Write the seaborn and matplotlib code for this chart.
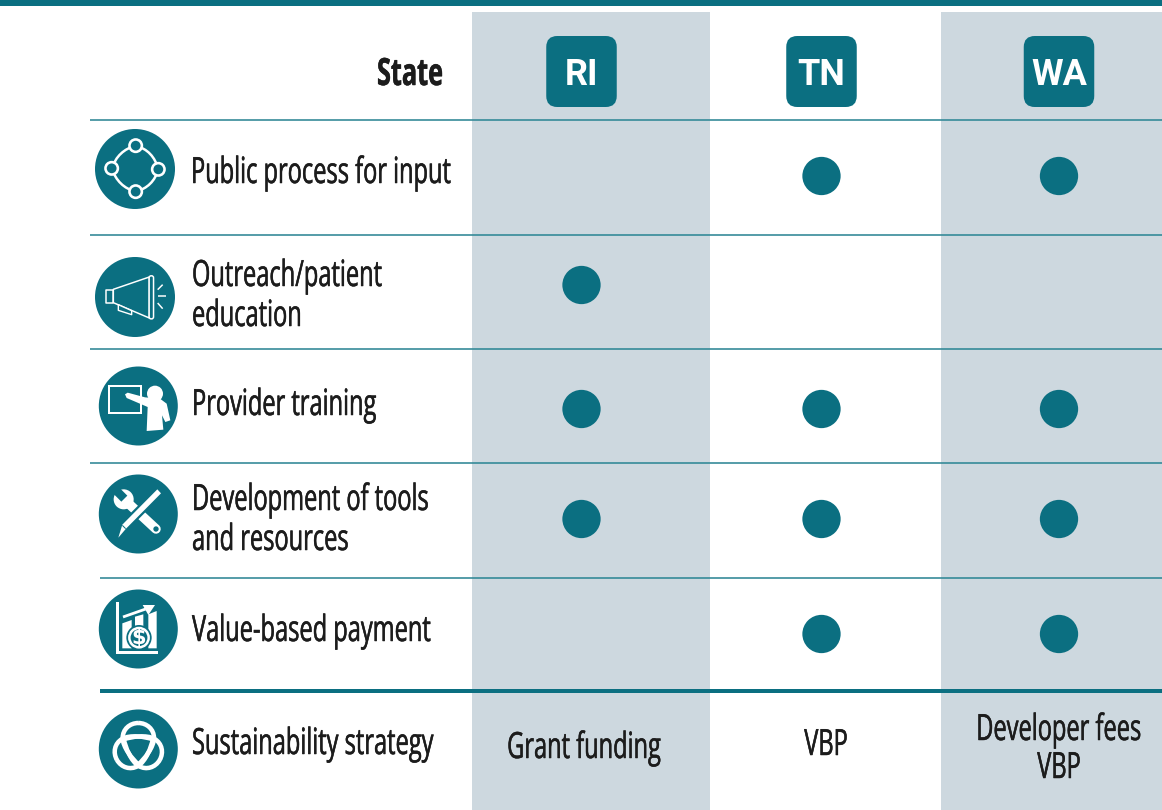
import os
import tempfile
import matplotlib
matplotlib.use("Agg")
import matplotlib.pyplot as plt
import matplotlib.patheffects as pe
import seaborn as sns
import pandas as pd
from matplotlib.patches import Circle, Rectangle, FancyBboxPatch, Polygon, PathPatch
from matplotlib.path import Path
from matplotlib.transforms import Affine2D
from matplotlib import font_manager as fm
from fontTools.ttLib import TTFont

states = ["RI", "TN", "WA"]
items = ["Public process for input", "Outreach/patient\neducation", "Provider training",
         "Development of tools\nand resources", "Value-based payment"]
has_ri = [0, 1, 1, 1, 0]
has_tn = [1, 0, 1, 1, 1]
has_wa = [1, 0, 1, 1, 1]
strategy_label = "Sustainability strategy"
strategies = ["Grant funding", "VBP", "Developer fees\nVBP"]
header = "State"

TEAL = "#0b6f81"
LINE = "#2f8796"
BAND = "#cdd8df"
INK = "#1c1c1c"

sns.set_theme(style="white")
plt.rcParams["font.family"] = ["Roboto", "DejaVu Sans"]


def condensed(weight, size_px, sample, target_px, fallback_weight):
    """Horizontally squeezed copy of an installed font, so labels stay real text."""
    try:
        src = fm.findfont(fm.FontProperties(family="Open Sans", weight=weight), fallback_to_default=False)
        font = TTFont(src)
        if "fvar" in font:
            from fontTools.varLib import instancer
            axes = {a.axisTag: a.defaultValue for a in font["fvar"].axes}
            axes["wght"] = 700 if weight == "bold" else 400
            font = instancer.instantiateVariableFont(font, axes)
        cmap = font.getBestCmap()
        adv = sum(font["hmtx"][cmap[ord(c)]][0] for c in sample)
        sx = target_px / (adv / font["head"].unitsPerEm * size_px)
        glyf = font["glyf"]
        for name in glyf.keys():
            g = glyf[name]
            if g.isComposite():
                for comp in g.components:
                    comp.x = round(comp.x * sx)
            elif g.numberOfContours > 0:
                g.coordinates.scale((sx, 1))
                g.coordinates.toInt()
            g.removeHinting()
            a, l = font["hmtx"][name]
            font["hmtx"][name] = (round(a * sx), round(l * sx))
        for tag in ["fpgm", "prep", "cvt ", "hdmx", "VDMX", "LTSH", "kern", "GPOS", "GSUB", "GDEF", "DSIG", "gasp"]:
            if tag in font:
                del font[tag]
        path = os.path.join(tempfile.mkdtemp(), f"cond_{weight}.ttf")
        font.save(path)
        return fm.FontProperties(fname=path)
    except Exception as e:
        print("fallback", e)
        return fm.FontProperties(family="Roboto", weight=fallback_weight)


REG_PT, BOLD_PT = 26, 27
FP_REG = condensed("normal", REG_PT / 0.72, items[0], 260, "normal")
FP_BOLD = condensed("bold", BOLD_PT / 0.72, header, 66, "bold")

fig = plt.figure(figsize=(11.62, 8.10), dpi=100)
ax = fig.add_axes([0, 0, 1, 1])

state_x = {"RI": 581.5, "TN": 821.5, "WA": 1059}
row_y = [176, 285, 409, 519, 634]
flags = {"RI": has_ri, "TN": has_tn, "WA": has_wa}
df = pd.DataFrame([
    {"x": state_x[s], "y": row_y[i]}
    for s in states for i in range(len(items)) if flags[s][i]
])
sns.scatterplot(data=df, x="x", y="y", ax=ax, s=760, color=TEAL, edgecolor="none",
                legend=False, zorder=5)
ax.set_xlim(0, 1162)
ax.set_ylim(810, 0)
ax.axis("off")

px = 0.72  # points per pixel

# frame pieces
ax.add_patch(Rectangle((0, 0), 1162, 6, fc=TEAL, ec="none", zorder=1))
ax.add_patch(Rectangle((472, 12), 237.5, 798, fc=BAND, ec="none", zorder=1))
ax.add_patch(Rectangle((941, 12), 221, 798, fc=BAND, ec="none", zorder=1))
for y, x0 in [(120, 90), (234.5, 90), (349, 90), (463, 90), (577.5, 100)]:
    ax.plot([x0, 1162], [y, y], color=LINE, lw=1.6 * px, zorder=2, solid_capstyle="butt")
ax.add_patch(Rectangle((100, 689), 1062, 4, fc=TEAL, ec="none", zorder=2))


def txt(x, y, s, ha="left", fp=FP_REG, size=REG_PT, color=INK, z=4):
    t = ax.text(x, y, s, ha=ha, va="baseline", fontproperties=fp, fontsize=size, color=color, zorder=z)
    t.set_path_effects([pe.withStroke(linewidth=0.35, foreground=color)])


# header
txt(443, 85, header, ha="right", fp=FP_BOLD, size=BOLD_PT)
for s, x in state_x.items():
    w = 70.5
    ax.add_patch(FancyBboxPatch((x - w / 2 + 11, 36 + 11), w - 22, 71 - 22,
                                boxstyle="round,pad=11,rounding_size=11", fc=TEAL, ec="none", zorder=3))
    ax.text(x, 85, s, ha="center", va="baseline", fontsize=26, fontweight="bold", color="white",
            zorder=4, family="Roboto")

# row labels
label_x = [191, 192, 192, 192, 192]
label_base = [183, 286, 415, 510, 641]
PITCH = 40
for x, y, t in zip(label_x, label_base, items):
    for k, line in enumerate(t.split("\n")):
        txt(x, y + k * PITCH, line)
txt(192, 754, strategy_label)
strat_x = [584, 826, 1059]
strat_base = [758, 755, 740]
for x, y, t in zip(strat_x, strat_base, strategies):
    for k, line in enumerate(t.split("\n")):
        txt(x, y + k * 38, line, ha="center")

# icons
for cx, cy, r in [(135, 169, 40), (135, 297, 40), (138.3, 406, 39.5),
                  (138.3, 514, 39.5), (138.3, 629, 39.5), (138.3, 749, 39.5)]:
    ax.add_patch(Circle((cx, cy), r, fc=TEAL, ec="none", zorder=3))


def crop(ox, oy):
    return lambda pts: [(ox + a / 3, oy + b / 3) for a, b in pts]


def poly(pts, fc="white", ec="none", lw=0, z=4):
    ax.add_patch(Polygon(pts, closed=True, fc=fc, ec=ec, lw=lw * px, zorder=z, joinstyle="round"))


def seg(pts, lw, color="white", z=4, cap="butt"):
    xs, ys = zip(*pts)
    ax.plot(xs, ys, color=color, lw=lw * px, zorder=z, solid_capstyle=cap)


def ring(c, r, fc=TEAL, ec="white", lw=2, z=4):
    ax.add_patch(Circle(c, r, fc=fc, ec=ec, lw=lw * px, zorder=z))


# 1: process ring
Z = crop(90, 125)
n = Z([(137, 62), (65, 130), (137, 200), (205, 133)])
ctrl = Z([(84, 76), (84, 186), (190, 186), (190, 76)])
verts = [n[0], ctrl[0], n[1], ctrl[1], n[2], ctrl[2], n[3], ctrl[3], n[0]]
ax.add_patch(PathPatch(Path(verts, [Path.MOVETO] + [Path.CURVE3] * 8), fc="none", ec="white",
                       lw=2.5 * px, zorder=4))
for c in n:
    ring(c, 6.2, lw=2.6, z=5)

# 2: megaphone
Z = crop(90, 252)
poly(Z([(70, 112), (178, 75), (178, 198), (70, 152)]), fc=TEAL, ec="white", lw=1.5)
poly(Z([(47, 115), (70, 115), (70, 153), (47, 153)]), fc=TEAL, ec="white", lw=1.5)
poly(Z([(85, 158), (85, 175), (125, 188), (125, 176)]), fc=TEAL, ec="white", lw=1.4)
ax.add_patch(FancyBboxPatch(Z([(181, 75)])[0], 6 / 3, 122 / 3, boxstyle="round,pad=1.2,rounding_size=2",
                            fc=TEAL, ec="white", lw=1.5 * px, zorder=4))
seg(Z([(203, 113), (218, 98)]), 1.5)
seg(Z([(205, 133), (228, 133)]), 1.5)
seg(Z([(203, 153), (218, 170)]), 1.5)

# 3: trainer
Z = crop(95, 362)
p = Z([(42, 72), (137, 152)])
ax.add_patch(Rectangle(p[0], p[1][0] - p[0][0], p[1][1] - p[0][1], fc=TEAL, ec="white", lw=2 * px, zorder=4))
ax.add_patch(Circle(Z([(180, 95)])[0], 24 / 3, fc="white", ec="none", zorder=5))
poly(Z([(90, 97), (98, 92), (150, 106), (195, 110), (215, 125), (226, 175), (211, 180), (201, 160),
        (205, 203), (155, 207), (158, 135), (95, 108)]), z=5)

# 4: tools
Z = crop(95, 470)
seg(Z([(100, 100), (183, 177)]), 9.5, cap="round")
ring(Z([(183, 177)])[0], 8 / 3, fc=TEAL, ec="none", lw=0, z=5)
ax.add_patch(Circle(Z([(86, 88)])[0], 30 / 3, fc="white", ec="none", zorder=4))
poly(Z([(97, 77), (79, 95), (51, 67), (69, 49)]), fc=TEAL, z=4.5)
poly(Z([(64, 210), (76, 160), (186, 50), (206, 72), (96, 182)]), fc=TEAL, z=5)
poly(Z([(70, 203), (82, 164), (187, 58), (198, 70), (93, 176)]), fc="white", z=6)
seg(Z([(82, 166), (92, 176)]), 1, color=TEAL, z=7)

# 5: value chart
Z = crop(95, 585)
poly(Z([(62, 52), (72, 52), (72, 198), (190, 198), (190, 207), (62, 207)]), z=4)
poly(Z([(82, 115), (110, 105), (110, 190), (82, 190)]), z=4)
poly(Z([(120, 95), (145, 88), (145, 190), (120, 190)]), z=4)
poly(Z([(160, 88), (185, 78), (185, 190), (160, 190)]), z=4)
seg(Z([(84, 96), (152, 72)]), 2.8, z=5)
poly(Z([(143, 60), (180, 60), (160, 90)]), z=5)
ax.add_patch(Circle(Z([(132, 158)])[0], 38 / 3, fc=TEAL, ec="none", zorder=5.5))
ring(Z([(132, 158)])[0], 29 / 3, fc=TEAL, ec="white", lw=2.5, z=6)
ax.text(*Z([(132, 158)])[0], "$", ha="center", va="center", fontsize=15, fontweight="bold",
        color="white", zorder=7, family="DejaVu Sans")

# 6: interlaced teardrop rings (triquetra)
Z = crop(95, 705)
gx, gy = Z([(130, 128)])[0]
loop = [(0, -74), (26, -74), (47, -55), (47, -29), (47, -2), (18, 35), (0, 50),
        (-18, 35), (-47, -2), (-47, -29), (-47, -55), (-26, -74), (0, -74)]
codes = [Path.MOVETO] + [Path.CURVE4] * 12
base = Path([(a / 3, b / 3) for a, b in loop], codes)
for angle in [0, 120, 240]:
    tr = Affine2D().rotate_deg(angle).translate(gx, gy)
    ax.add_patch(PathPatch(base.transformed(tr), fc="none", ec="white", lw=4.5 * px, zorder=4))

fig.savefig("out.png", dpi=100)
